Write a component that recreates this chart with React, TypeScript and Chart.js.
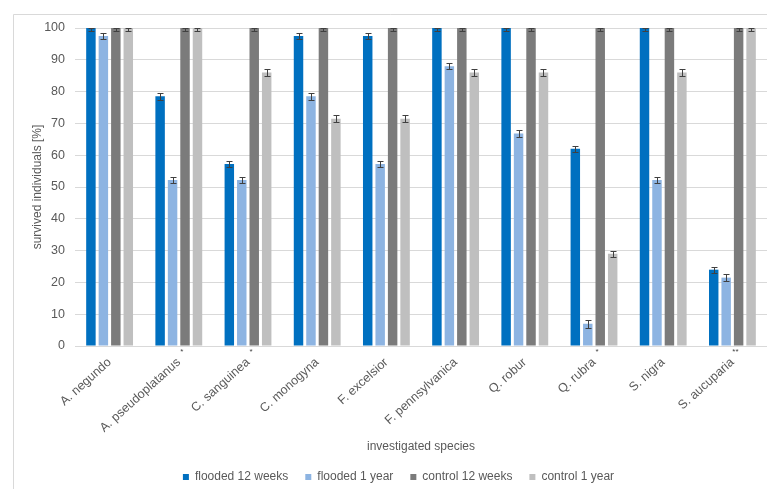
import { useEffect, useRef } from "react";
import { Chart, registerables } from "chart.js";

Chart.register(...registerables);

const categories = [
  "A. negundo",
  "A. pseudoplatanus",
  "C. sanguinea",
  "C. monogyna",
  "F. excelsior",
  "F. pennsylvanica",
  "Q. robur",
  "Q. rubra",
  "S. nigra",
  "S. aucuparia",
];
const significance = ["", "*", "*", "", "", "", "", "*", "", "**"];
const seriesNames = ["flooded 12 weeks", "flooded 1 year", "control 12 weeks", "control 1 year"];

const flooded12w = [100, 78.5, 57.2, 97.5, 97.5, 100, 100, 62, 100, 24];
const flooded1y = [97.5, 52.2, 52.2, 78.5, 57.2, 88, 66.8, 7, 52.2, 21.5];
const control12w = [100, 100, 100, 100, 100, 100, 100, 100, 100, 100];
const control1y = [100, 100, 86, 71.5, 71.5, 86, 86, 29, 86, 100];

const err12w = [0.8, 1, 1, 1, 1, 0.8, 0.8, 1, 0.8, 1];
const err1y = [1, 1, 1, 1, 1, 1, 1, 1.3, 1, 1];
const errC12 = [0.8, 0.8, 0.8, 0.8, 0.8, 0.8, 0.8, 0.8, 0.8, 0.8];
const errC1 = [0.8, 0.8, 1, 1, 1, 1, 1, 1, 1, 0.8];

const yTicks = [0, 10, 20, 30, 40, 50, 60, 70, 80, 90, 100];

const seriesValues = [flooded12w, flooded1y, control12w, control1y];
const seriesErrors = [err12w, err1y, errC12, errC1];
const seriesColors = ["#0070c0", "#8db4e2", "#7b7b7b", "#bfbfbf"];

const FONT = "'Liberation Sans', Arial, sans-serif";
const TEXT = "#595959";

const framePlugin = {
  id: "frame",
  beforeDraw(chart: any) {
    const { ctx, width, height } = chart;
    ctx.save();
    ctx.fillStyle = "#ffffff";
    ctx.fillRect(0, 0, width, height);
    ctx.strokeStyle = "#d9d9d9";
    ctx.lineWidth = 1;
    ctx.beginPath();
    ctx.moveTo(13.5, height);
    ctx.lineTo(13.5, 14.5);
    ctx.lineTo(width, 14.5);
    ctx.stroke();
    ctx.restore();
  },
};

const errorBarPlugin = {
  id: "errorBars",
  afterDatasetsDraw(chart: any) {
    const { ctx } = chart;
    const y = chart.scales.y;
    ctx.save();
    ctx.strokeStyle = "#404040";
    ctx.lineWidth = 1;
    chart.data.datasets.forEach((ds: any, di: number) => {
      const meta = chart.getDatasetMeta(di);
      const errs = seriesErrors[di];
      meta.data.forEach((bar: any, i: number) => {
        const v = ds.data[i];
        const e = errs[i];
        const yTop = Math.round(y.getPixelForValue(Math.min(v + e, 100))) + 0.5;
        const yBot = Math.round(y.getPixelForValue(v - e)) + 0.5;
        const x = Math.round(bar.x) + 0.5;
        ctx.beginPath();
        ctx.moveTo(x, yTop);
        ctx.lineTo(x, yBot);
        ctx.moveTo(x - 3, yTop);
        ctx.lineTo(x + 3, yTop);
        ctx.moveTo(x - 3, yBot);
        ctx.lineTo(x + 3, yBot);
        ctx.stroke();
      });
    });
    ctx.restore();
  },
};

const significancePlugin = {
  id: "significance",
  afterDraw(chart: any) {
    const { ctx } = chart;
    const x = chart.scales.x;
    ctx.save();
    ctx.font = `8px ${FONT}`;
    ctx.fillStyle = "#404040";
    ctx.textAlign = "center";
    ctx.textBaseline = "middle";
    significance.forEach((s, i) => {
      if (!s) return;
      ctx.fillText(s, x.getPixelForValue(i) + 3, x.top + 6);
    });
    ctx.restore();
  },
};

export default function App() {
  const canvasRef = useRef<HTMLCanvasElement | null>(null);

  useEffect(() => {
    if (!canvasRef.current) return;
    const chart = new Chart(canvasRef.current, {
      type: "bar",
      data: {
        labels: categories,
        datasets: seriesNames.map((name, i) => ({
          label: name,
          data: seriesValues[i],
          backgroundColor: seriesColors[i],
          borderWidth: 0,
          categoryPercentage: 0.72,
          barPercentage: 0.76,
        })),
      },
      options: {
        animation: false,
        responsive: true,
        maintainAspectRatio: false,
        layout: { padding: { top: 28, left: 30, right: 0, bottom: 0 } },
        plugins: {
          legend: {
            position: "bottom",
            labels: {
              boxWidth: 6,
              boxHeight: 6,
              padding: 17,
              color: TEXT,
              font: { family: FONT, size: 12 },
            },
          },
          tooltip: { enabled: false },
        },
        scales: {
          x: {
            grid: { display: false, drawTicks: false },
            border: { display: true, color: "#d9d9d9" },
            ticks: {
              color: TEXT,
              font: { family: FONT, size: 12.5 },
              minRotation: 42,
              maxRotation: 42,
              padding: 9,
              autoSkip: false,
            },
            title: {
              display: true,
              text: "investigated species",
              color: TEXT,
              font: { family: FONT, size: 12 },
              padding: { top: 0, bottom: 0 },
            },
            afterFit(scale: any) {
              scale.height = 108;
            },
          },
          y: {
            min: 0,
            max: 100,
            grid: { color: "#d9d9d9", drawTicks: false },
            border: { display: false },
            afterBuildTicks(scale: any) {
              scale.ticks = yTicks.map((v) => ({ value: v }));
            },
            ticks: {
              color: TEXT,
              font: { family: FONT, size: 12.5 },
              padding: 10,
            },
            title: {
              display: true,
              text: "survived individuals [%]",
              color: TEXT,
              font: { family: FONT, size: 12 },
              padding: { top: 0, bottom: 0 },
            },
            afterFit(scale: any) {
              scale.width = 45;
            },
          },
        },
      },
      plugins: [framePlugin, errorBarPlugin, significancePlugin],
    });
    return () => chart.destroy();
  }, []);

  return (
    <div
      style={{
        position: "fixed",
        left: 0,
        top: 0,
        width: 767,
        height: 489,
        overflow: "hidden",
        background: "#ffffff",
      }}
    >
      <div style={{ position: "relative", width: 767, height: 493 }}>
        <canvas ref={canvasRef} />
      </div>
    </div>
  );
}
